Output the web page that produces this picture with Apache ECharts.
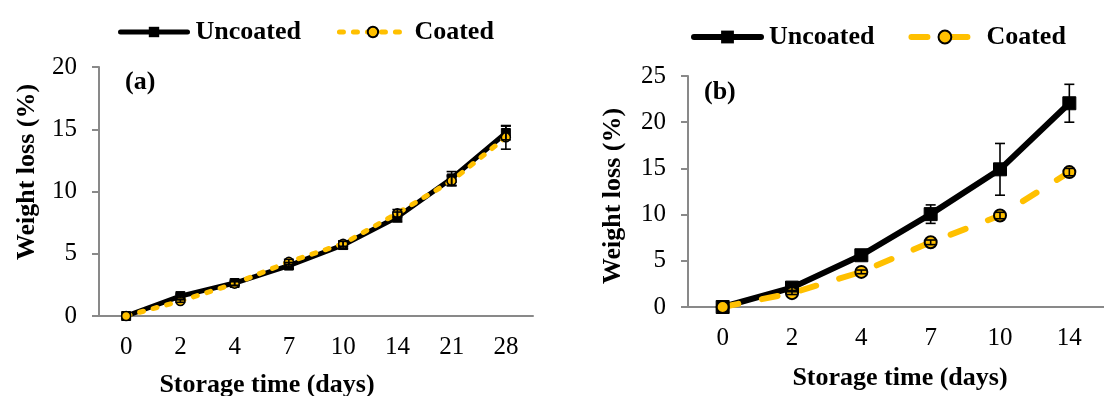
<!DOCTYPE html>
<html>
<head>
<meta charset="utf-8">
<script src="https://cdn.jsdelivr.net/npm/echarts@6/dist/echarts.min.js"></script>
<style>
  html, body { margin: 0; padding: 0; background: #fff; }
  #chart { width: 1104px; height: 396px; }
</style>
</head>
<body>
<div id="chart"></div>
<script>
// panel (a)
var daysA = ['0', '2', '4', '7', '10', '14', '21', '28'];
var uncoatedA = [0, 1.6, 2.65, 4.05, 5.7, 7.95, 11.05, 14.7];
var coatedA = [0, 1.2, 2.6, 4.35, 5.8, 8.25, 10.85, 14.35];
var uncoatedErrA = [0, 0.15, 0.2, 0.25, 0.3, 0.4, 0.55, 0.55];
var coatedErrA = [0, 0.1, 0.15, 0.2, 0.2, 0.3, 0.4, 0.95];

// panel (b)
var daysB = ['0', '2', '4', '7', '10', '14'];
var uncoatedB = [0, 2.1, 5.6, 10.05, 14.9, 22.05];
var coatedB = [0, 1.5, 3.8, 7.0, 9.9, 14.6];
var uncoatedErrB = [0, 0.3, 0.45, 1.0, 2.8, 2.05];
var coatedErrB = [0, 0.15, 0.2, 0.25, 0.35, 0.4];

(function () {
  var myChart = echarts.init(document.getElementById('chart'));
  var serif = '"Liberation Serif", "Times New Roman", serif';
  var grey = '#898989';
  var gold = '#FFC000';

  function errData(vals, errs) {
    var out = [];
    for (var i = 0; i < vals.length; i++) {
      if (errs[i] > 0) out.push([i, vals[i] - errs[i], vals[i] + errs[i]]);
    }
    return out;
  }

  function errorBars(half) {
    return function (params, api) {
      var x = api.value(0);
      var lo = api.coord([x, api.value(1)]);
      var hi = api.coord([x, api.value(2)]);
      var st = { stroke: '#000', lineWidth: 1.6 };
      return {
        type: 'group',
        children: [
          { type: 'line', shape: { x1: lo[0], y1: lo[1], x2: hi[0], y2: hi[1] }, style: st },
          { type: 'line', shape: { x1: hi[0] - half, y1: hi[1], x2: hi[0] + half, y2: hi[1] }, style: st },
          { type: 'line', shape: { x1: lo[0] - half, y1: lo[1], x2: lo[0] + half, y2: lo[1] }, style: st }
        ]
      };
    };
  }

  function xAxis(idx, cats) {
    return {
      type: 'category', gridIndex: idx, data: cats, boundaryGap: true,
      axisLine: { lineStyle: { color: grey, width: 2 } },
      axisTick: { length: 8, lineStyle: { color: grey, width: 2 } },
      axisLabel: { color: '#000', fontFamily: serif, fontSize: 25, margin: 19 }
    };
  }

  function yAxis(idx, max) {
    return {
      type: 'value', gridIndex: idx, min: 0, max: max, interval: 5,
      splitLine: { show: false },
      axisLine: { show: true, lineStyle: { color: grey, width: 2 } },
      axisTick: { show: true, length: 7, lineStyle: { color: grey, width: 2 } },
      axisLabel: { color: '#000', fontFamily: serif, fontSize: 25, margin: 22 }
    };
  }

  function legend(left, top, names, gap, h, w) {
    return {
      left: left, top: top, data: names, itemGap: gap,
      itemWidth: 67, itemHeight: h,
      lineStyle: { width: w, cap: 'round' },
      formatter: function (n) { return n.trim(); },
      textStyle: { fontFamily: serif, fontSize: 26, fontWeight: 'bold', color: '#000', padding: [0, 0, 0, 3] }
    };
  }

  var bold = { fontFamily: serif, fontSize: 26, fontWeight: 'bold', fill: '#000' };

  var option = {
    animation: false,
    legend: [
      legend(113, 14, ['Uncoated', 'Coated'], 36, 13, 5),
      legend(686, 19, ['Uncoated ', 'Coated '], 34, 16, 6)
    ],
    grid: [
      { left: 99, top: 67, width: 434, height: 249 },
      { left: 688, top: 76, width: 426, height: 231 }
    ],
    xAxis: [xAxis(0, daysA), xAxis(1, daysB)],
    yAxis: [yAxis(0, 20), yAxis(1, 25)],
    graphic: [
      { type: 'text', x: 267, y: 385, style: Object.assign({ text: 'Storage time (days)', align: 'center', verticalAlign: 'middle' }, bold) },
      { type: 'text', x: 900, y: 378, style: Object.assign({ text: 'Storage time (days)', align: 'center', verticalAlign: 'middle' }, bold) },
      { type: 'text', x: 27, y: 172, rotation: Math.PI / 2, style: Object.assign({ text: 'Weight loss (%)', align: 'center', verticalAlign: 'middle' }, bold) },
      { type: 'text', x: 613, y: 196, rotation: Math.PI / 2, style: Object.assign({ text: 'Weight loss (%)', align: 'center', verticalAlign: 'middle' }, bold) },
      { type: 'text', x: 125, y: 82, style: Object.assign({ text: '(a)', align: 'left', verticalAlign: 'middle' }, bold) },
      { type: 'text', x: 704, y: 92, style: Object.assign({ text: '(b)', align: 'left', verticalAlign: 'middle' }, bold) }
    ],
    series: [
      {
        name: 'Uncoated', type: 'line', xAxisIndex: 0, yAxisIndex: 0, data: uncoatedA,
        symbol: 'rect', symbolSize: 9, smooth: false,
        lineStyle: { color: '#000', width: 5 },
        itemStyle: { color: '#000', borderColor: '#000' }
      },
      {
        name: 'Coated', type: 'line', xAxisIndex: 0, yAxisIndex: 0, data: coatedA,
        symbol: 'circle', symbolSize: 9,
        lineStyle: { color: gold, width: 5, type: [4, 10], cap: 'round' },
        itemStyle: { color: gold, borderColor: '#000', borderWidth: 1.5 }
      },
      {
        type: 'custom', xAxisIndex: 0, yAxisIndex: 0, z: 5,
        data: errData(uncoatedA, uncoatedErrA), encode: { x: 0, y: [1, 2] },
        renderItem: errorBars(5)
      },
      {
        type: 'custom', xAxisIndex: 0, yAxisIndex: 0, z: 5,
        data: errData(coatedA, coatedErrA), encode: { x: 0, y: [1, 2] },
        renderItem: errorBars(5)
      },
      {
        name: 'Uncoated ', type: 'line', xAxisIndex: 1, yAxisIndex: 1, data: uncoatedB,
        symbol: 'rect', symbolSize: 13,
        lineStyle: { color: '#000', width: 6 },
        itemStyle: { color: '#000', borderColor: '#000' }
      },
      {
        name: 'Coated ', type: 'line', xAxisIndex: 1, yAxisIndex: 1, data: coatedB,
        symbol: 'circle', symbolSize: 12,
        lineStyle: { color: gold, width: 6, type: [16, 24], cap: 'round' },
        itemStyle: { color: gold, borderColor: '#000', borderWidth: 2 }
      },
      {
        type: 'custom', xAxisIndex: 1, yAxisIndex: 1, z: 5,
        data: errData(uncoatedB, uncoatedErrB), encode: { x: 0, y: [1, 2] },
        renderItem: errorBars(5)
      },
      {
        type: 'custom', xAxisIndex: 1, yAxisIndex: 1, z: 5,
        data: errData(coatedB, coatedErrB), encode: { x: 0, y: [1, 2] },
        renderItem: errorBars(5)
      }
    ]
  };

  myChart.setOption(option);
  window.addEventListener('resize', function () {
    myChart.resize();
  });
})();
</script>
</body>
</html>
